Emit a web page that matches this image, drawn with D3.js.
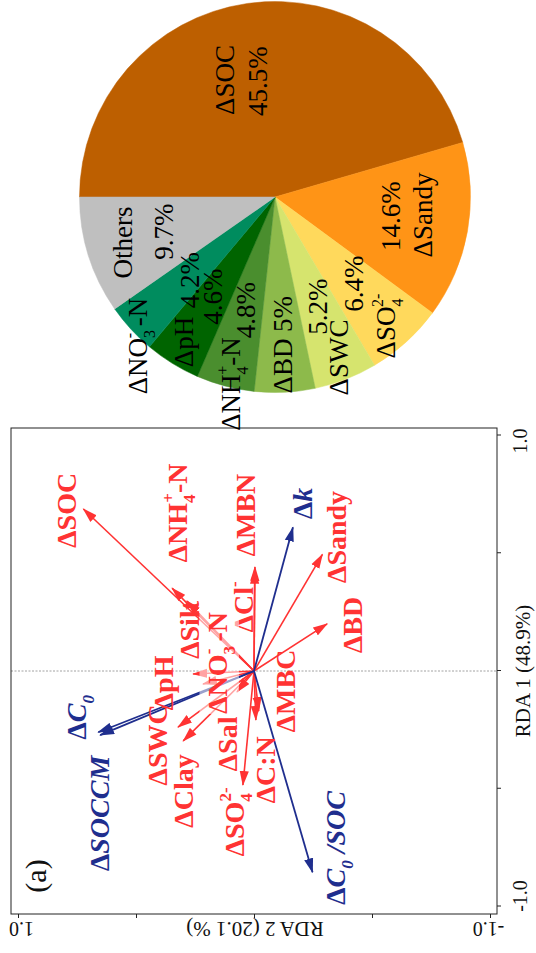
<!DOCTYPE html>
<html>
<head>
<meta charset="utf-8">
<script src="https://cdn.jsdelivr.net/npm/d3@7/dist/d3.min.js"></script>
<style>
  html, body { margin: 0; padding: 0; background: #fff; }
  svg { display: block; }
</style>
</head>
<body>
<script>
// ---------- data ----------
// Soil property vectors on the first two RDA axes
const soilVars = ["SOC", "NH4", "Silt", "MBN", "Cl", "Sandy", "BD", "NO3", "pH", "SWC", "Clay", "Sal", "SO4", "CN", "MBC"];
const soilRDA1 = [0.688, 0.352, 0.297, 0.442, 0.430, 0.495, 0.200, -0.055, -0.013, -0.238, -0.297, -0.089, -0.484, -0.208, -0.170];
const soilRDA2 = [0.723, 0.347, 0.284, -0.004, -0.003, -0.290, -0.310, 0.216, 0.258, 0.322, 0.300, 0.072, 0.047, -0.008, -0.020];

// Carbon mineralisation response vectors
const respVars = ["k", "C0", "SOCCM", "C0SOC"];
const respRDA1 = [0.610, -0.260, -0.272, -0.855];
const respRDA2 = [-0.165, 0.660, 0.652, -0.248];

// Axis ticks
const axisTicks = [-1, -0.5, 0, 0.5, 1];
const axisTickLabels = ["-1.0", "", "", "", "1.0"];
const axisTitles = ["RDA 1 (48.9%)", "RDA 2 (20.1 %)"];

// Explained variation (%) of each variable
const pieVars = ["SOC", "Sandy", "SO4", "SWC", "BD", "NH4", "pH", "NO3", "Others"];
const pieShares = [45.5, 14.6, 6.4, 5.2, 5, 4.8, 4.6, 4.2, 9.7];

// ---------- text with sub/superscripts ----------
const richLabels = {
  SOC:   [{t: "ΔSOC"}],
  NH4:   [{t: "ΔNH"}, {t: "4", k: "sub"}, {t: "+", k: "sup", dx: -8.4}, {t: "-N"}],
  Silt:  [{t: "ΔSilt"}],
  MBN:   [{t: "ΔMBN"}],
  Cl:    [{t: "ΔCl"}, {t: "-", k: "sup"}],
  Sandy: [{t: "ΔSandy"}],
  BD:    [{t: "ΔBD"}],
  NO3:   [{t: "ΔNO"}, {t: "3", k: "sub"}, {t: "-", k: "sup", dx: -8.4}, {t: " -N"}],
  pH:    [{t: "ΔpH"}],
  SWC:   [{t: "ΔSWC"}],
  Clay:  [{t: "ΔClay"}],
  Sal:   [{t: "ΔSal"}],
  SO4:   [{t: "ΔSO"}, {t: "4", k: "sub"}, {t: "2-", k: "sup", dx: -8.4}],
  CN:    [{t: "ΔC:N"}],
  MBC:   [{t: "ΔMBC"}],
  Others:[{t: "Others"}],
  k:     [{t: "Δ"}, {t: "k", i: true}],
  C0:    [{t: "Δ"}, {t: "C", i: true}, {t: "0", k: "sub", i: true}],
  SOCCM: [{t: "Δ"}, {t: "SOCCM", i: true}],
  C0SOC: [{t: "Δ"}, {t: "C", i: true}, {t: "0", k: "sub", i: true}, {t: " /SOC", i: true}]
};

function richText(sel, segs, fs) {
  let shift = 0;
  segs.forEach(s => {
    const small = s.k === "sub" || s.k === "sup";
    const target = s.k === "sub" ? 0.28 * fs : s.k === "sup" ? -0.45 * fs : 0;
    const ts = sel.append("tspan").text(s.t)
      .attr("dy", (target - shift).toFixed(2))
      .attr("font-size", small ? Math.round(fs * 0.6) : fs);
    if (s.dx) ts.attr("dx", s.dx);
    if (s.i) ts.attr("font-style", "italic");
    shift = target;
  });
}

// ---------- layout ----------
const FW = 953, FH = 536;           // landscape figure, shown turned a quarter
const serif = "'Liberation Serif', 'Times New Roman', serif";
const RED = "#FF3333", BLUE = "#1F2E8E";

// label anchors in RDA units (centre, baseline)
const soilLabelPos = {
  SOC: [0.682, 0.754], NH4: [0.671, 0.284], Silt: [0.174, 0.233], MBN: [0.662, -0.004],
  Cl: [0.272, 0.004], Sandy: [0.569, -0.390], BD: [0.195, -0.458], NO3: [0.034, 0.114],
  pH: [-0.051, 0.343], SWC: [-0.314, 0.369], Clay: [-0.510, 0.258], Sal: [-0.310, 0.072],
  SO4: [-0.641, 0.042], CN: [-0.420, -0.089], MBC: [-0.085, -0.174]
};
const respLabelPos = {
  k: [0.711, -0.246], C0: [-0.197, 0.712], SOCCM: [-0.605, 0.614], C0SOC: [-0.752, -0.386]
};

// pie label offsets from the pie centre: [name dx, name dy, value dx, value dy]
const pieLabelPos = {
  SOC: [117, -41, 116, -8],
  Sandy: [-18, 157, -19, 125],
  SO4: [-129, 120, -86.5, 88],
  SWC: [-160.5, 73, -109.5, 52],
  BD: [-169, 17, -117, 17],
  NH4: [-187, -35, -113, -20],
  pH: [-145, -82, -99.5, -53],
  NO3: [-149, -128, -83, -76],
  Others: [-45.5, -143, -34.5, -102]
};
const pieColors = ["#BD5F00", "#FF9416", "#FFD95C", "#D6E46E", "#8DBA4B", "#4A8E2E", "#006400", "#008C5E", "#BFBFBF"];

const svg = d3.select("body").append("svg")
  .attr("width", 536).attr("height", 953)
  .attr("font-family", serif);

const frame = svg.append("g").attr("transform", `translate(0,${FW}) rotate(-90)`);

// ---------- panel (a): RDA biplot ----------
const x = d3.scaleLinear().domain([-1, 1]).range([46.5, 517.5]);
const y = d3.scaleLinear().domain([-1, 1]).range([490, 18]);
const box = {x0: 39, x1: 525, y0: 11, y1: 497};

const defs = svg.append("defs");
function marker(id, color) {
  defs.append("marker")
    .attr("id", id).attr("viewBox", "0 -5 15 10")
    .attr("refX", 14).attr("refY", 0)
    .attr("markerWidth", 15).attr("markerHeight", 10)
    .attr("markerUnits", "userSpaceOnUse").attr("orient", "auto")
    .append("path").attr("d", "M0,-4.6L15,0L0,4.6Z").attr("fill", color);
}
marker("head-red", RED);
marker("head-blue", BLUE);

const plot = frame.append("g");

// RDA1 = 0 reference line
plot.append("line")
  .attr("x1", x(0)).attr("x2", x(0)).attr("y1", box.y0).attr("y2", box.y1)
  .attr("stroke", "#8a8a8a").attr("stroke-width", 0.8).attr("stroke-dasharray", "2,1.5");

// frame
plot.append("rect")
  .attr("x", box.x0).attr("y", box.y0)
  .attr("width", box.x1 - box.x0).attr("height", box.y1 - box.y0)
  .attr("fill", "none").attr("stroke", "#222").attr("stroke-width", 1);

// axes
const xAxis = plot.append("g").attr("transform", `translate(0,${box.y1})`)
  .call(d3.axisBottom(x).tickValues(axisTicks).tickSize(4).tickSizeOuter(0)
    .tickFormat((d, i) => axisTickLabels[i]));
xAxis.select(".domain").remove();
xAxis.selectAll("line").attr("stroke", "#222");
xAxis.selectAll("text")
  .attr("font-family", serif).attr("font-size", 20).attr("fill", "#111")
  .attr("y", 30).attr("dy", 0)
  .attr("dx", d => d === 1 ? -6 : d === -1 ? 10 : 0);

const yAxis = plot.append("g").attr("transform", `translate(${box.x0},0)`)
  .call(d3.axisLeft(y).tickValues(axisTicks).tickSize(4).tickSizeOuter(0)
    .tickFormat((d, i) => axisTickLabels[i]));
yAxis.select(".domain").remove();
yAxis.selectAll("line").attr("stroke", "#222");
yAxis.selectAll("text")
  .attr("font-family", serif).attr("font-size", 20).attr("fill", "#111")
  .attr("transform", "rotate(-90)")
  .attr("text-anchor", "middle")
  .attr("x", d => d === 1 ? -3 : d === -1 ? 2 : 0)
  .attr("y", -8).attr("dy", 0);

plot.append("text")
  .attr("x", x(0)).attr("y", 530)
  .attr("text-anchor", "middle").attr("font-size", 21).attr("fill", "#111")
  .text(axisTitles[0]);
plot.append("text")
  .attr("transform", `translate(31,${y(0) + 1}) rotate(-90)`)
  .attr("text-anchor", "middle").attr("font-size", 21).attr("fill", "#111")
  .text(axisTitles[1]);

// panel tag
plot.append("text")
  .attr("x", 77).attr("y", 46)
  .attr("text-anchor", "middle").attr("font-size", 30).attr("fill", "#111")
  .text("(a)");

// arrows
const soil = soilVars.map((v, i) => ({v, a: soilRDA1[i], b: soilRDA2[i]}));
const resp = respVars.map((v, i) => ({v, a: respRDA1[i], b: respRDA2[i]}));

plot.append("g").selectAll("line").data(soil).join("line")
  .attr("x1", x(0)).attr("y1", y(0))
  .attr("x2", d => x(d.a)).attr("y2", d => y(d.b))
  .attr("stroke", RED).attr("stroke-width", 1.6)
  .attr("marker-end", "url(#head-red)");

plot.append("g").selectAll("line").data(resp).join("line")
  .attr("x1", x(0)).attr("y1", y(0))
  .attr("x2", d => x(d.a)).attr("y2", d => y(d.b))
  .attr("stroke", BLUE).attr("stroke-width", 1.8)
  .attr("marker-end", "url(#head-blue)");

// labels
const LFS = 28;
const labelLayer = plot.append("g").attr("font-weight", "bold");
soil.forEach(d => {
  const p = soilLabelPos[d.v];
  const t = labelLayer.append("text")
    .attr("x", x(p[0])).attr("y", y(p[1]))
    .attr("text-anchor", "middle").attr("fill", RED).attr("font-size", LFS);
  richText(t, richLabels[d.v], LFS);
  if (d.v === "NO3") {
    const bb = t.node().getBBox();
    labelLayer.insert("rect", () => t.node())
      .attr("x", bb.x).attr("y", bb.y).attr("width", bb.width).attr("height", bb.height)
      .attr("fill", "#fff").attr("opacity", 0.55);
  }
});
resp.forEach(d => {
  const p = respLabelPos[d.v];
  const t = labelLayer.append("text")
    .attr("x", x(p[0])).attr("y", y(p[1]))
    .attr("text-anchor", "middle").attr("fill", BLUE).attr("font-size", LFS);
  richText(t, richLabels[d.v], LFS);
});

// ---------- pie of explained variation ----------
const pieC = [756, 275], pieR = 195.5;
const pieG = frame.append("g").attr("transform", `translate(${pieC[0]},${pieC[1]})`);
const arcs = d3.pie().sort(null).value(d => d)(pieShares);
const arc = d3.arc().innerRadius(0).outerRadius(pieR);
pieG.selectAll("path").data(arcs).join("path")
  .attr("d", arc)
  .attr("fill", (d, i) => pieColors[i])
  .attr("stroke", (d, i) => pieColors[i]).attr("stroke-width", 0.5);

const PFS = 27;
pieVars.forEach((v, i) => {
  const p = pieLabelPos[v];
  const nt = pieG.append("text")
    .attr("x", p[0]).attr("y", p[1])
    .attr("text-anchor", "middle").attr("font-size", PFS).attr("fill", "#000");
  richText(nt, richLabels[v], PFS);
  pieG.append("text")
    .attr("x", p[2]).attr("y", p[3])
    .attr("text-anchor", "middle").attr("font-size", PFS).attr("fill", "#000")
    .text(pieShares[i] + "%");
});
</script>
</body>
</html>
